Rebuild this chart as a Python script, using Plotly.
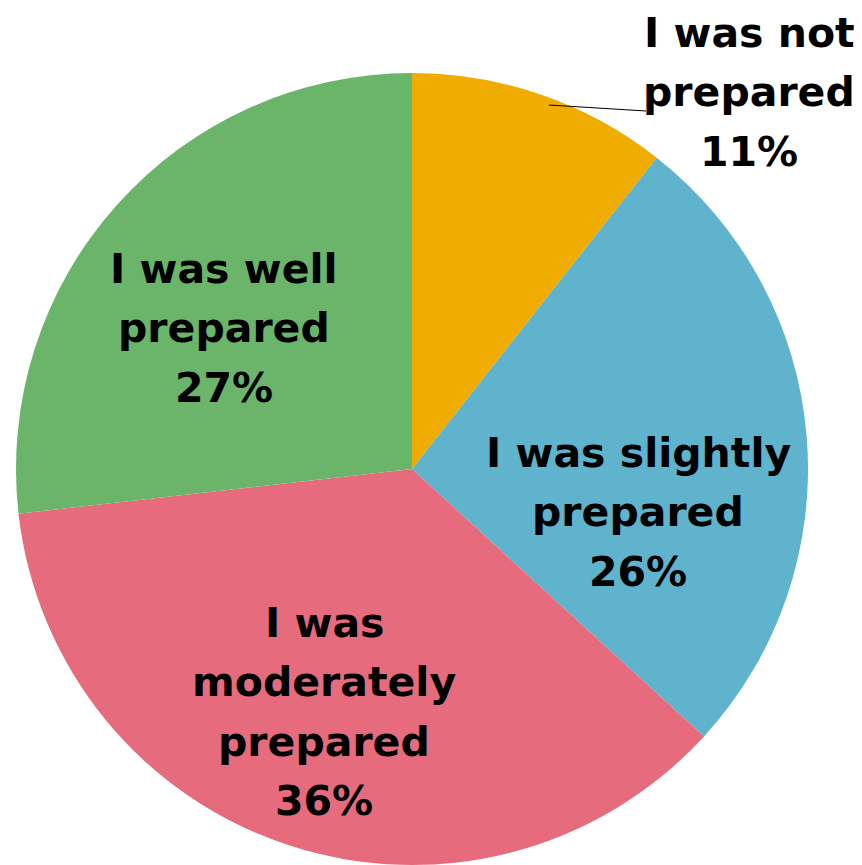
import plotly.graph_objects as go

# ---- data ----
categories = ["I was not prepared", "I was slightly prepared",
              "I was moderately prepared", "I was well prepared"]
values = [10.6, 26.2, 36.4, 26.8]
label_lines = [["I was not", "prepared"], ["I was slightly", "prepared"],
               ["I was", "moderately", "prepared"], ["I was well", "prepared"]]
colors = ["#F0AC00", "#5FB3CD", "#E66C7D", "#6BB56B"]

W, H = 862, 865
total = sum(values)
pcts = [round(v / total * 100) for v in values]

fig = go.Figure(go.Pie(
    labels=categories, values=values, sort=False, direction="clockwise",
    rotation=0, textinfo="none", hoverinfo="label+percent",
    marker=dict(colors=colors, line=dict(width=0)),
    domain=dict(x=[7 / W, 801 / W], y=[8 / H, 800 / H]),
    showlegend=False,
))

# label centre positions in pixels (layout) and line spacing
label_pos = [(741, 84), (630, 504), (316, 704), (216, 320)]
line_gap = 59.5
font = dict(family="DejaVu Sans, sans-serif", size=41, color="black")
for lines, p, (px, py) in zip(label_lines, pcts, label_pos):
    all_lines = lines + [f"{p}%"]
    n = len(all_lines)
    for i, ln in enumerate(all_lines):
        yy = py + (i - (n - 1) / 2) * line_gap
        fig.add_annotation(x=px / W, y=1 - yy / H, xref="paper", yref="paper",
                           text=f"<b>{ln}</b>", showarrow=False, font=font,
                           align="center", xanchor="center", yanchor="middle",
                           borderpad=0)

# leader line for the small slice
fig.add_shape(type="line", xref="paper", yref="paper",
              x0=541 / W, y0=1 - 97 / H, x1=638 / W, y1=1 - 103 / H,
              line=dict(color="black", width=1))

fig.update_layout(width=W, height=H, margin=dict(l=0, r=0, t=0, b=0),
                  paper_bgcolor="white", plot_bgcolor="white")
fig.write_html("out.html")
